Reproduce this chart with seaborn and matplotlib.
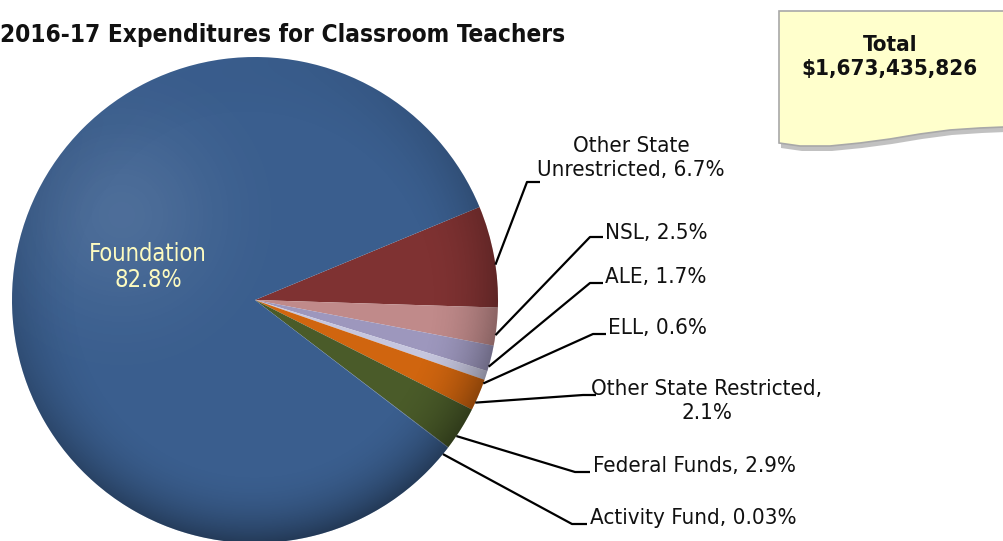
import numpy as np
import matplotlib
matplotlib.use("Agg")
import matplotlib.pyplot as plt
import seaborn as sns
from matplotlib.patches import Polygon, Circle

sns.set_theme(style="white")
plt.rcParams['font.family'] = ['DejaVu Sans']
plt.rcParams['font.stretch'] = 'condensed'

# data (clockwise from the top of the red slice)
names = ["Other State Unrestricted", "NSL", "ALE", "ELL",
         "Other State Restricted", "Federal Funds", "Activity Fund", "Foundation"]
pcts = [6.7, 2.5, 1.7, 0.6, 2.1, 2.9, 0.03, 82.8]
label_text = ["Other State\nUnrestricted, 6.7%", "NSL, 2.5%", "ALE, 1.7%", "ELL, 0.6%",
              "Other State Restricted,\n2.1%", "Federal Funds, 2.9%", "Activity Fund, 0.03%"]
total_text = "Total\n$1,673,435,826"
title = "2016-17 Expenditures for Classroom Teachers"

colors = ["#7f3232", "#c08a8a", "#9d97bd", "#c6c6de", "#d0650f", "#4a5b29", "#34557f", "#3a5e8e"]

W, H = 1004, 541
fy = lambda y: H - y

fig = plt.figure(figsize=(10.04, 5.41), dpi=100)
ax = fig.add_axes([0, 0, 1, 1])

cx, cy, r = 255, fy(300), 243
wedges, _ = ax.pie(pcts, colors=colors, startangle=22.5, counterclock=False,
                   center=(cx, cy), radius=r, wedgeprops=dict(linewidth=0))
ax.set_xlim(0, W)
ax.set_ylim(0, H)
ax.set_aspect("equal")
ax.axis("off")

# 3d-ish shading on the pie
n = 400
xs = np.linspace(-1, 1, n)
X, Y = np.meshgrid(xs, xs[::-1])
D = np.sqrt(X**2 + Y**2)
dark = np.zeros((n, n, 4))
side = np.clip(0.5 + 0.5 * (X * 0.3 - Y * 0.9), 0, 1.2)
dark[..., 3] = np.clip(0.4 * np.clip((D - 0.7) / 0.3, 0, 1) ** 2 * side, 0, 0.45)
light = np.ones((n, n, 4))
light[..., 3] = 0.10 * np.exp(-((X + 0.55) ** 2 + (Y - 0.35) ** 2) / 0.15)
for img in (light, dark):
    im = ax.imshow(img, extent=(cx - r, cx + r, cy - r, cy + r), zorder=2, interpolation="bilinear")
    clip = Circle((cx, cy), r, transform=ax.transData)
    im.set_clip_path(clip)
ax.set_xlim(0, W)
ax.set_ylim(0, H)

ax.text(148, fy(267), "Foundation\n82.8%", color="#fdfbc0", fontsize=17,
        ha="center", va="center", linespacing=1.15, zorder=5)

# leader lines + labels: (elbow x, elbow y, stub end x, text x, text y, ha)
layout = [
    (527, 182, 540, 631, 158, "center"),
    (590, 237, 603, 605, 233, "left"),
    (590, 283, 603, 605, 277, "left"),
    (593, 334, 606, 608, 328, "left"),
    (583, 395, 596, 707, 401, "center"),
    (575, 472, 590, 593, 466, "left"),
    (572, 524, 587, 590, 518, "left"),
]
for w, txt, (ex, ey, sx, tx, ty, ha) in zip(wedges, label_text, layout):
    mid = np.deg2rad((w.theta1 + w.theta2) / 2 - 2)
    px, py = cx + r * np.cos(mid), cy + r * np.sin(mid)
    ax.plot([px, ex, sx], [py, fy(ey), fy(ey)], color="black", lw=1.6, zorder=4,
            solid_capstyle="butt")
    ax.text(tx, fy(ty), txt, fontsize=16, ha=ha, va="center", color="#111111",
            linespacing=1.3, zorder=5)

ax.text(0, fy(35), title, fontsize=17.5, fontweight="bold", ha="left", va="center", color="#111111")

# note box
top = [(779, 11), (1010, 11), (1010, 127)]
wave_x = np.array([1004, 980, 950, 920, 890, 860, 830, 800, 779])
wave_y = np.array([127, 128, 130, 134, 139, 143, 146, 146, 143])
pts = [(x, fy(y)) for x, y in top] + [(x, fy(y)) for x, y in zip(wave_x, wave_y)]
shadow = [(x + 2, y - 5) for x, y in pts]
ax.add_patch(Polygon(shadow, closed=True, facecolor="#999999", alpha=0.6, edgecolor="none", zorder=6))
ax.add_patch(Polygon(pts, closed=True, facecolor="#ffffcc", edgecolor="#a8a8a8", lw=1.2, zorder=7))
ax.text(890, fy(57), total_text, fontsize=16, fontweight="bold", ha="center", va="center",
        linespacing=1.3, zorder=8, color="#111111")

fig.savefig("out.png", dpi=100)
